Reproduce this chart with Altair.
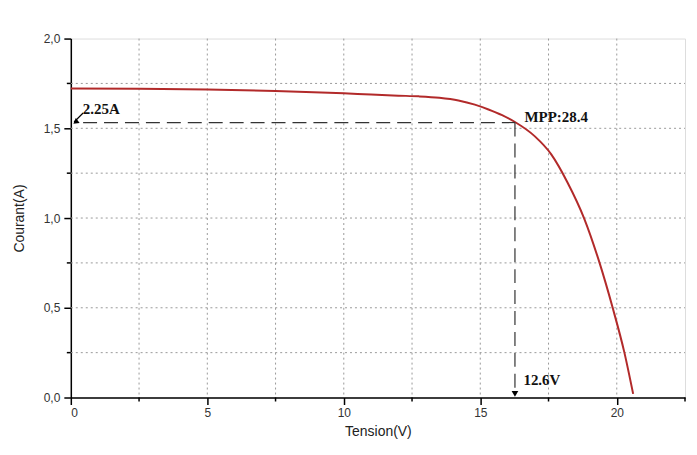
import altair as alt
import pandas as pd

# I-V curve
V = [0, 2.5, 5, 7.5, 10, 11, 12.0, 12.75, 13.5, 14.2, 14.8, 15.3, 15.8, 16.27, 17.0, 17.6, 18.2, 18.8, 19.37, 19.85, 20.28, 20.6]
I = [1.722, 1.72, 1.716, 1.708, 1.695, 1.688, 1.682, 1.678, 1.67, 1.655, 1.632, 1.605, 1.573, 1.535, 1.455, 1.355, 1.197, 1.0, 0.75, 0.5, 0.25, 0.02]

x_major = [0, 5, 10, 15, 20]
x_minor = [2.5, 7.5, 12.5, 17.5, 22.5]
y_major = [0, 0.5, 1.0, 1.5, 2.0]
y_minor = [0.25, 0.75, 1.25, 1.75]
x_grid = [2.5, 5, 7.5, 10, 12.5, 15, 17.5, 20]
y_grid = [0.25, 0.5, 0.75, 1.0, 1.25, 1.5, 1.75]

mpp_v = 16.27
mpp_i = 1.532
labels_txt = ["2.25A", "MPP:28.4", "12.6V"]
labels_x = [0.44, 16.62, 16.58]
labels_y = [1.605, 1.565, 0.095]

W, H = 616, 360
xs = alt.Scale(domain=[0, 22.5], nice=False, zero=False)
ys = alt.Scale(domain=[0, 2.0], nice=False, zero=False)

xaxis = alt.Axis(values=x_major, tickSize=7, tickWidth=1.5, domainWidth=1.5,
                 domainColor="black", tickColor="black", grid=False,
                 labelFont="Liberation Sans", labelFontSize=12, labelColor="#333",
                 labelPadding=3, titleFont="Liberation Sans", titleFontSize=14,
                 titleFontWeight="normal", titleColor="#222", titlePadding=6)
yaxis = alt.Axis(values=y_major, tickSize=7, tickWidth=1.5, domainWidth=1.5,
                 domainColor="black", tickColor="black", grid=False,
                 labelExpr="replace(format(datum.value, '.1f'), '.', ',')",
                 labelFont="Liberation Sans", labelFontSize=12, labelColor="#333",
                 labelPadding=4, titleFont="Liberation Sans", titleFontSize=14,
                 titleFontWeight="normal", titleColor="#222", titleX=-44)


def X(f):
    return alt.X(f, scale=xs, axis=xaxis, title="Tension(V)")


def Y(f):
    return alt.Y(f, scale=ys, axis=yaxis, title="Courant(A)")


curve = pd.DataFrame({"V": V, "I": I})

line = alt.Chart(curve).mark_line(color="#b22a2a", strokeWidth=2, interpolate="monotone").encode(
    x=X("V:Q"), y=Y("I:Q"))

xg = alt.Chart(pd.DataFrame({"v": x_grid})).mark_rule(
    color="#9a9a9a", strokeDash=[2, 3], strokeWidth=1
).encode(x=X("v:Q"), y=alt.value(0), y2=alt.value(H))

yg = alt.Chart(pd.DataFrame({"v": y_grid})).mark_rule(
    color="#9a9a9a", strokeDash=[2, 3], strokeWidth=1
).encode(y=Y("v:Q"), x=alt.value(0), x2=alt.value(W))

xminor = alt.Chart(pd.DataFrame({"v": x_minor})).mark_rule(color="black", strokeWidth=1.5).encode(
    x=X("v:Q"), y=alt.value(H), y2=alt.value(H + 4))
yminor = alt.Chart(pd.DataFrame({"v": y_minor})).mark_rule(color="black", strokeWidth=1.5).encode(
    y=Y("v:Q"), x=alt.value(0), x2=alt.value(-4))

hd = alt.Chart(pd.DataFrame({"x1": [0.45], "x2": [mpp_v], "y": [mpp_i]})).mark_rule(
    color="#333", strokeDash=[14, 7], strokeWidth=1.2
).encode(x=X("x1:Q"), x2="x2:Q", y=Y("y:Q"))

vd = alt.Chart(pd.DataFrame({"x": [mpp_v], "y1": [mpp_i], "y2": [0.03]})).mark_rule(
    color="#333", strokeDash=[14, 7], strokeWidth=1.2
).encode(x=X("x:Q"), y=Y("y1:Q"), y2="y2:Q")

arr_line = alt.Chart(pd.DataFrame({"x1": [0.45], "x2": [0.12], "y1": [1.585], "y2": [1.535]})).mark_rule(
    color="black", strokeWidth=1.2
).encode(x=X("x1:Q"), x2="x2:Q", y=Y("y1:Q"), y2="y2:Q")

arr_head1 = alt.Chart(pd.DataFrame({"x": [0.2], "y": [1.537]})).mark_point(
    shape="triangle", filled=True, color="black", size=40, angle=233, opacity=1
).encode(x=X("x:Q"), y=Y("y:Q"))

arr_head2 = alt.Chart(pd.DataFrame({"x": [mpp_v], "y": [0.02]})).mark_point(
    shape="triangle-down", filled=True, color="black", size=45, opacity=1
).encode(x=X("x:Q"), y=Y("y:Q"))

txt = alt.Chart(pd.DataFrame({"t": labels_txt, "x": labels_x, "y": labels_y})).mark_text(
    font="Liberation Serif", fontWeight="bold", fontSize=15, align="left", baseline="middle", color="#111"
).encode(x=X("x:Q"), y=Y("y:Q"), text="t:N")

chart = alt.layer(xg, yg, xminor, yminor, line, hd, vd, arr_line, arr_head1, arr_head2, txt).properties(
    width=W, height=H,
    autosize=alt.AutoSizeParams(type="none"),
    padding={"left": 63, "top": 30, "right": 4, "bottom": 55},
).configure_view(stroke=None).configure(background="white").configure_axis(
    domainColor="black", tickColor="black", domainWidth=1.5, tickWidth=1.5
)

chart.save("out.html", embed_options={"renderer": "svg", "actions": False})
